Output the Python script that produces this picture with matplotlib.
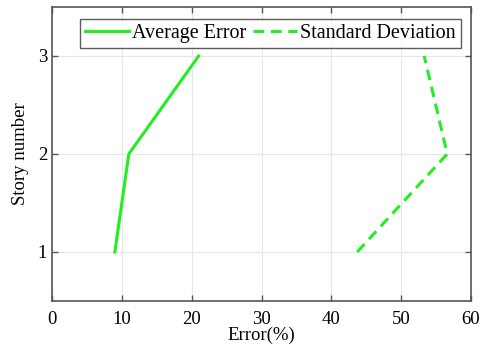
import matplotlib
matplotlib.use("Agg")
import matplotlib.pyplot as plt

# values
stories = [1, 2, 3]
avg_error = [9.0, 11.0, 21.0]
std_dev = [43.7, 56.6, 53.3]

plt.rcParams["font.family"] = ["Liberation Serif", "DejaVu Serif"]

fig = plt.figure(figsize=(4.84, 3.46), dpi=100)
ax = fig.add_axes([52 / 484, 1 - 301 / 346, (471 - 52) / 484, (301 - 7) / 346])

green = "#22ee22"
ax.plot(avg_error, stories, color=green, lw=2.2, label="Average Error")
ax.plot(std_dev, stories, color=green, lw=2.2, ls=(0, (3.5, 2.2)), label="Standard Deviation")

ax.set_xlim(0, 60)
ax.set_ylim(0.5, 3.5)
ax.set_xticks(range(0, 61, 10))
ax.set_yticks([1, 2, 3])
ax.grid(True, color="#e6e6e6", lw=0.8)
ax.set_axisbelow(True)
ax.tick_params(direction="in", top=True, right=True, labelsize=13.5, length=4,
               color="#555555", width=1.0)
ax.tick_params(axis="x", pad=7)
for s in ax.spines.values():
    s.set_color("#555555")
    s.set_linewidth(1.2)

ax.set_xlabel("Error(%)", fontsize=13.5, labelpad=-1)
ax.set_ylabel("Story number", fontsize=13.5, labelpad=6)

leg = ax.legend(loc="upper right", bbox_to_anchor=(0.975, 0.96), ncol=2, fontsize=14.5,
                frameon=True, fancybox=False, edgecolor="#333333", handlelength=2.2,
                handletextpad=0.15, columnspacing=0.3, borderpad=0.25, borderaxespad=0.0)
leg.get_frame().set_linewidth(1.0)

fig.savefig("out.png", dpi=100)
